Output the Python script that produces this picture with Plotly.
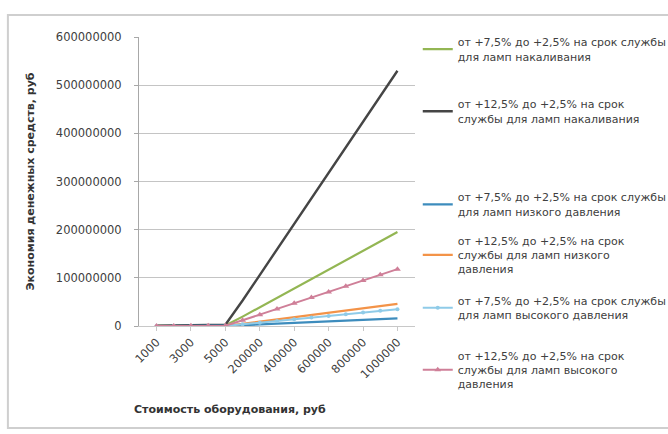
import plotly.graph_objects as go

# Equipment cost categories (rub)
cost = ["1000", "2000", "3000", "4000", "5000",
        "100000", "200000", "300000", "400000", "500000",
        "600000", "700000", "800000", "900000", "1000000"]
cost_ticks = ["1000", "3000", "5000", "200000", "400000", "600000", "800000", "1000000"]

# Savings of money, rub
inc_75 = [195000, 390000, 585000, 780000, 975000,
          19500000, 39000000, 58500000, 78000000, 97500000,
          117000000, 136500000, 156000000, 175500000, 195000000]
inc_125 = [530000, 1060000, 1590000, 2120000, 2650000,
           53000000, 106000000, 159000000, 212000000, 265000000,
           318000000, 371000000, 424000000, 477000000, 530000000]
low_75 = [16000, 32000, 48000, 64000, 80000,
          1600000, 3200000, 4800000, 6400000, 8000000,
          9600000, 11200000, 12800000, 14400000, 16000000]
low_125 = [46000, 92000, 138000, 184000, 230000,
           4600000, 9200000, 13800000, 18400000, 23000000,
           27600000, 32200000, 36800000, 41400000, 46000000]
high_75 = [35000, 70000, 105000, 140000, 175000,
           3500000, 7000000, 10500000, 14000000, 17500000,
           21000000, 24500000, 28000000, 31500000, 35000000]
high_125 = [118000, 236000, 354000, 472000, 590000,
            11800000, 23600000, 35400000, 47200000, 59000000,
            70800000, 82600000, 94400000, 106200000, 118000000]

y_ticks = [0, 100000000, 200000000, 300000000, 400000000, 500000000, 600000000]

names = [
    "от +7,5% до +2,5% на срок службы<br>для ламп накаливания",
    "от +12,5% до +2,5% на срок<br>службы для ламп накаливания",
    "от +7,5% до +2,5% на срок службы<br>для ламп низкого давления",
    "от +12,5% до +2,5% на срок<br>службы для ламп низкого<br>давления",
    "от +7,5% до +2,5% на срок службы<br>для ламп высокого давления",
    "от +12,5% до +2,5% на срок<br>службы для ламп высокого<br>давления",
]
series = [inc_75, inc_125, low_75, low_125, high_75, high_125]
colors = ["#93b653", "#454545", "#3d8cbd", "#f39348", "#8fcbe8", "#cf7f98"]
widths = [2.2, 2.4, 2.2, 2.2, 2.0, 2.0]
markers = [None, None, None, None, dict(symbol="circle", size=4),
           dict(symbol="triangle-up", size=6)]

legend_y = [1.03, 0.815, 0.493, 0.343, 0.135, -0.055]

FONT = "DejaVu Sans"
TXT = "#404040"

fig = go.Figure()
for i, (vals, name, col, w, mk) in enumerate(zip(series, names, colors, widths, markers)):
    lg = "legend" if i == 0 else f"legend{i + 1}"
    fig.add_trace(go.Scatter(
        x=cost, y=vals, name=name,
        mode="lines+markers" if mk else "lines",
        line=dict(color=col, width=w),
        marker=dict(color=col, **mk) if mk else None,
        legend=lg,
    ))

legend_common = dict(
    x=1.01, xanchor="left", yanchor="top",
    bgcolor="rgba(0,0,0,0)", borderwidth=0,
    font=dict(family=FONT, size=11, color=TXT),
    itemwidth=30, tracegroupgap=0,
)
layout_legends = {}
for i, ly in enumerate(legend_y):
    key = "legend" if i == 0 else f"legend{i + 1}"
    layout_legends[key] = dict(legend_common, y=ly)

fig.update_layout(
    width=668, height=434,
    margin=dict(l=139, r=253, t=37, b=108, autoexpand=False),
    paper_bgcolor="white", plot_bgcolor="white",
    showlegend=True,
    font=dict(family=FONT, color=TXT),
    xaxis=dict(
        type="category", categoryorder="array", categoryarray=cost,
        tickmode="array", tickvals=cost_ticks, ticktext=cost_ticks,
        tickangle=-45, tickfont=dict(family=FONT, size=11.5, color=TXT),
        showgrid=False, showline=True, linecolor="#c8c8c8", linewidth=1,
        ticks="outside", ticklen=4, tickcolor="#c8c8c8",
        zeroline=False,
    ),
    yaxis=dict(
        range=[0, 600000000], tickmode="array", tickvals=y_ticks,
        ticktext=[str(v) for v in y_ticks],
        tickfont=dict(family=FONT, size=11.5, color=TXT),
        showgrid=True, gridcolor="#c4c4c4", gridwidth=1,
        showline=True, linecolor="#a8a8a8", linewidth=1,
        ticks="outside", ticklen=4, tickcolor="#a8a8a8",
        zeroline=False, ticklabelstandoff=10,
        title=dict(text="<b>Экономия денежных средств, руб</b>",
                   font=dict(family=FONT, size=11, color="#333333"), standoff=18),
    ),
    annotations=[dict(
        text="<b>Стоимость оборудования, руб</b>",
        xref="paper", yref="paper", x=0.33, y=-0.29,
        xanchor="center", yanchor="middle", showarrow=False,
        font=dict(family=FONT, size=11, color="#333333"),
    )],
    shapes=[dict(type="rect", xref="paper", yref="paper",
                 x0=-0.475, x1=1.93, y0=-0.353, y1=1.076,
                 line=dict(color="#cfcfcf", width=2), fillcolor="rgba(0,0,0,0)",
                 layer="below")],
    **layout_legends,
)

fig.write_html("out.html")
